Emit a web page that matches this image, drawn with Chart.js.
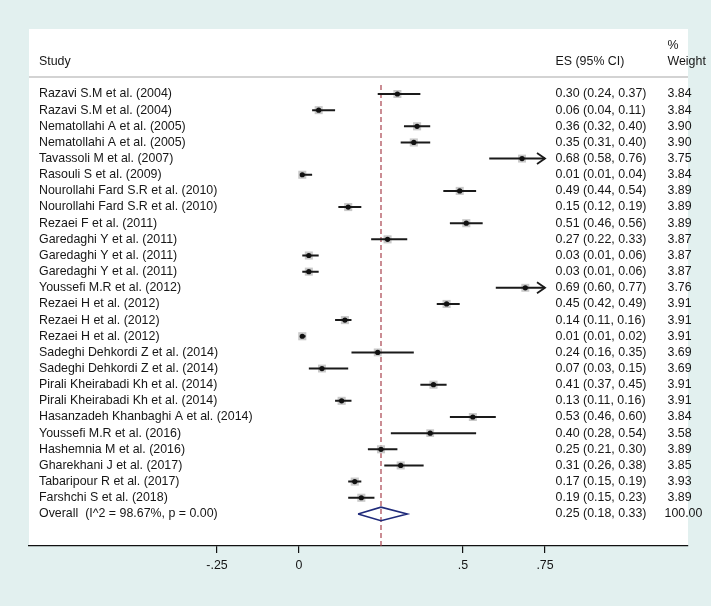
<!DOCTYPE html>
<html>
<head>
<meta charset="utf-8">
<script src="https://cdn.jsdelivr.net/npm/chart.js@4/dist/chart.umd.min.js"></script>
<style>
  html, body { margin: 0; padding: 0; background: #e2f0ef; }
  canvas { display: block; }
</style>
</head>
<body>
<canvas id="c" width="711" height="606"></canvas>
<script>
const studies = [
  'Razavi S.M et al. (2004)',
  'Razavi S.M et al. (2004)',
  'Nematollahi A et al. (2005)',
  'Nematollahi A et al. (2005)',
  'Tavassoli M et al. (2007)',
  'Rasouli S et al. (2009)',
  'Nourollahi Fard S.R et al. (2010)',
  'Nourollahi Fard S.R et al. (2010)',
  'Rezaei F et al. (2011)',
  'Garedaghi Y et al. (2011)',
  'Garedaghi Y et al. (2011)',
  'Garedaghi Y et al. (2011)',
  'Youssefi M.R et al. (2012)',
  'Rezaei H et al. (2012)',
  'Rezaei H et al. (2012)',
  'Rezaei H et al. (2012)',
  'Sadeghi Dehkordi Z et al. (2014)',
  'Sadeghi Dehkordi Z et al. (2014)',
  'Pirali Kheirabadi Kh et al. (2014)',
  'Pirali Kheirabadi Kh et al. (2014)',
  'Hasanzadeh Khanbaghi A et al. (2014)',
  'Youssefi M.R et al. (2016)',
  'Hashemnia M et al. (2016)',
  'Gharekhani J et al. (2017)',
  'Tabaripour R et al. (2017)',
  'Farshchi S et al. (2018)'
];
const es = [0.30,0.06,0.36,0.35,0.68,0.01,0.49,0.15,0.51,0.27,0.03,0.03,0.69,0.45,0.14,0.01,0.24,0.07,0.41,0.13,0.53,0.40,0.25,0.31,0.17,0.19];
const lo = [0.24,0.04,0.32,0.31,0.58,0.01,0.44,0.12,0.46,0.22,0.01,0.01,0.60,0.42,0.11,0.01,0.16,0.03,0.37,0.11,0.46,0.28,0.21,0.26,0.15,0.15];
const hi = [0.37,0.11,0.40,0.40,0.76,0.04,0.54,0.19,0.56,0.33,0.06,0.06,0.77,0.49,0.16,0.02,0.35,0.15,0.45,0.16,0.60,0.54,0.30,0.38,0.19,0.23];
const weights = [3.84,3.84,3.90,3.90,3.75,3.84,3.89,3.89,3.89,3.87,3.87,3.87,3.76,3.91,3.91,3.91,3.69,3.69,3.91,3.91,3.84,3.58,3.89,3.85,3.93,3.89];
const overallLabel = 'Overall  (I^2 = 98.67%, p = 0.00)';
const overallES = 0.25, overallLo = 0.18, overallHi = 0.33;
const overallWeight = '100.00';
const tickValues = [-0.25, 0, 0.5, 0.75];
const tickLabels = ['-.25', '0', '.5', '.75'];
const headerStudy = 'Study', headerES = 'ES (95% CI)', headerPct = '%', headerWeight = 'Weight';

const FONT = '12.4px "Liberation Sans", Arial, sans-serif';
const TEXT = '#161616';
const nRows = studies.length + 1;
const xClip = tickValues[tickValues.length - 1];

// CI segments with gaps
const ciPoints = [];
studies.forEach((s, i) => {
  ciPoints.push({x: lo[i], y: i + 1});
  ciPoints.push({x: Math.min(hi[i], xClip), y: i + 1});
  ciPoints.push({x: lo[i], y: null});
});
const boxPoints = studies.map((s, i) => ({x: es[i], y: i + 1}));
const diamondH = 0.42;
const diamond = [
  {x: overallLo, y: nRows},
  {x: overallES, y: nRows - diamondH},
  {x: overallHi, y: nRows},
  {x: overallES, y: nRows + diamondH},
  {x: overallLo, y: nRows}
];
const refLine = [{x: overallES, y: 0.45}, {x: overallES, y: 40}];

const bgPlugin = {
  id: 'bg',
  beforeDraw(chart) {
    const {ctx, chartArea: a} = chart;
    ctx.save();
    ctx.fillStyle = '#e2f0ef';
    ctx.fillRect(0, 0, chart.width, chart.height);
    ctx.fillStyle = '#ffffff';
    ctx.fillRect(a.left, a.top, a.right - a.left, a.bottom - a.top);
    ctx.restore();
  }
};

const textPlugin = {
  id: 'texts',
  afterDraw(chart) {
    const {ctx, chartArea: a, scales: {x, y}} = chart;
    ctx.save();
    ctx.font = FONT;
    ctx.fillStyle = TEXT;
    ctx.textBaseline = 'middle';
    ctx.textAlign = 'left';
    const colStudy = a.left + 10;
    const colES = 555.5;
    const colW = 667.5;
    // headers
    ctx.fillText(headerStudy, colStudy, y.getPixelForValue(-1));
    ctx.fillText(headerES, colES, y.getPixelForValue(-1));
    ctx.fillText(headerPct, colW, y.getPixelForValue(-2));
    ctx.fillText(headerWeight, colW, y.getPixelForValue(-1));
    // header rule
    ctx.strokeStyle = '#c4c4c4';
    ctx.lineWidth = 1.5;
    ctx.beginPath();
    const ly = y.getPixelForValue(-0.05);
    ctx.moveTo(a.left, ly);
    ctx.lineTo(a.right, ly);
    ctx.stroke();
    // rows
    studies.forEach((s, i) => {
      const py = y.getPixelForValue(i + 1);
      ctx.fillText(s, colStudy, py);
      ctx.fillText(es[i].toFixed(2) + ' (' + lo[i].toFixed(2) + ', ' + hi[i].toFixed(2) + ')', colES, py);
      ctx.fillText(weights[i].toFixed(2), colW, py);
    });
    const oy = y.getPixelForValue(nRows);
    ctx.fillText(overallLabel, colStudy, oy);
    ctx.fillText(overallES.toFixed(2) + ' (' + overallLo.toFixed(2) + ', ' + overallHi.toFixed(2) + ')', colES, oy);
    ctx.fillText(overallWeight, colW - 3, oy);
    ctx.restore();
  },
  afterDatasetsDraw(chart) {
    const {ctx, scales: {x, y}} = chart;
    ctx.save();
    ctx.strokeStyle = '#1a1a1a';
    ctx.lineWidth = 1.8;
    ctx.lineCap = 'butt';
    studies.forEach((s, i) => {
      if (hi[i] > xClip) {
        const px = x.getPixelForValue(xClip);
        const py = y.getPixelForValue(i + 1);
        ctx.beginPath();
        ctx.moveTo(px - 8, py - 5.5);
        ctx.lineTo(px, py);
        ctx.lineTo(px - 8, py + 5.5);
        ctx.stroke();
      }
    });
    ctx.restore();
  }
};

new Chart(document.getElementById('c'), {
  type: 'scatter',
  data: {
    datasets: [
      {
        label: 'ref', type: 'line', data: refLine, order: 6,
        borderColor: '#a8424d', borderWidth: 1.2, borderDash: [5, 3],
        pointRadius: 0, fill: false
      },
      {
        label: 'boxes', data: boxPoints, order: 5,
        pointStyle: 'rect', backgroundColor: '#c9c9c9', borderWidth: 0,
        pointRadius: (c) => 4.1 * Math.sqrt(weights[c.dataIndex] || 3.8) / Math.SQRT2 * 1.0,
        pointHoverRadius: (c) => 4.1 * Math.sqrt(weights[c.dataIndex] || 3.8) / Math.SQRT2
      },
      {
        label: 'ci', type: 'line', data: ciPoints, order: 4,
        borderColor: '#1a1a1a', borderWidth: 2, pointRadius: 0, fill: false,
        spanGaps: false
      },
      {
        label: 'es', data: boxPoints, order: 3,
        pointStyle: 'circle', backgroundColor: '#111111', borderWidth: 0,
        pointRadius: 2.6, pointHoverRadius: 2.6
      },
      {
        label: 'overall', type: 'line', data: diamond, order: 2,
        borderColor: '#1f2a7a', borderWidth: 1.6, pointRadius: 0, fill: false,
        tension: 0
      }
    ]
  },
  options: {
    responsive: false,
    animation: false,
    events: [],
    layout: { padding: { left: 29, right: 23, top: 29, bottom: 0 } },
    plugins: { legend: { display: false }, tooltip: { enabled: false } },
    scales: {
      x: {
        type: 'linear', position: 'bottom',
        min: -270 / 328, max: 389 / 328,
        afterBuildTicks: (s) => { s.ticks = tickValues.map(v => ({value: v})); },
        afterFit: (s) => { s.height = 60; },
        ticks: {
          autoSkip: false, maxRotation: 0, padding: 5,
          color: TEXT,
          font: { family: '"Liberation Sans", Arial, sans-serif', size: 12.4 },
          callback: (v) => { const k = tickValues.indexOf(v); return k >= 0 ? tickLabels[k] : ''; }
        },
        grid: { drawOnChartArea: false, drawTicks: true, tickLength: 7, color: '#111', lineWidth: 1.2 },
        border: { display: true, color: '#111', width: 1.2 }
      },
      y: {
        type: 'linear', reverse: true, display: false,
        min: 1 - 65 / 16.15, max: 1 - 65 / 16.15 + 517 / 16.15
      }
    }
  },
  plugins: [bgPlugin, textPlugin]
});
</script>
</body>
</html>
